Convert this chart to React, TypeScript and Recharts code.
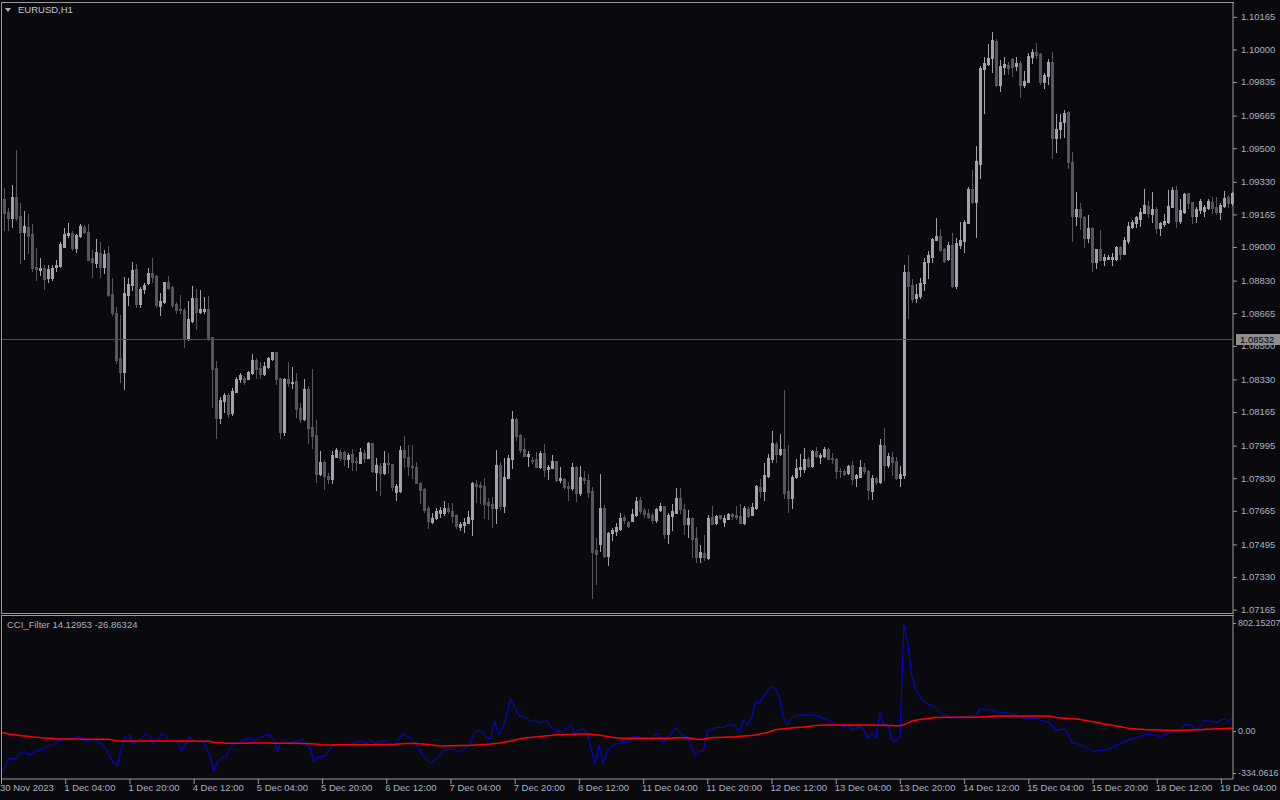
import { ComposedChart, Bar, Line, XAxis, YAxis, ReferenceLine } from 'recharts'

// EURUSD H1 candles per trading day: [open, high, low, close]
const nov30 = [
  [1.09242, 1.09297, 1.09086, 1.09173], [1.09178, 1.09196, 1.09086, 1.09148], [1.09148, 1.09314, 1.09103, 1.09252],
  [1.09252, 1.09491, 1.09137, 1.09148], [1.09157, 1.09221, 1.08917, 1.09077], [1.09077, 1.09183, 1.08938, 1.09107],
  [1.091, 1.09167, 1.08968, 1.09056], [1.09066, 1.09117, 1.08879, 1.08895], [1.089, 1.08994, 1.08833, 1.08887],
  [1.08885, 1.08943, 1.08859, 1.08893], [1.08893, 1.08907, 1.08786, 1.0884], [1.08842, 1.08907, 1.08824, 1.08887],
]
const dec01 = [
  [1.08843, 1.08907, 1.08833, 1.08893], [1.08899, 1.08934, 1.0888, 1.08907], [1.08905, 1.09027, 1.089, 1.09016],
  [1.09002, 1.09095, 1.09002, 1.09064], [1.09061, 1.0912, 1.09049, 1.09071], [1.09071, 1.09082, 1.08985, 1.08994],
  [1.08997, 1.09064, 1.08975, 1.09061], [1.09056, 1.09117, 1.09053, 1.09107], [1.091, 1.09113, 1.09069, 1.09076],
  [1.09076, 1.09117, 1.08934, 1.08934], [1.08944, 1.08985, 1.0885, 1.08925], [1.0892, 1.09042, 1.08897, 1.08975],
  [1.08968, 1.09027, 1.08847, 1.089], [1.089, 1.08985, 1.08867, 1.08966], [1.0897, 1.09006, 1.08753, 1.08758],
  [1.08763, 1.08843, 1.08656, 1.08667], [1.08666, 1.08698, 1.08414, 1.08428], [1.08437, 1.08656, 1.08318, 1.08369],
  [1.08369, 1.0885, 1.0828, 1.08766], [1.08758, 1.08842, 1.08707, 1.08813], [1.08808, 1.08924, 1.08783, 1.08884],
  [1.08889, 1.08914, 1.08695, 1.08712], [1.08712, 1.08799, 1.08698, 1.08789], [1.08788, 1.08816, 1.08769, 1.08808],
]
const dec04 = [
  [1.08816, 1.08895, 1.08813, 1.0887], [1.08867, 1.08946, 1.08824, 1.0885], [1.08854, 1.08859, 1.08695, 1.08707],
  [1.08703, 1.08766, 1.08657, 1.08727], [1.0872, 1.08824, 1.08715, 1.08824], [1.08823, 1.08854, 1.08788, 1.08794],
  [1.08799, 1.08804, 1.08698, 1.08708], [1.08712, 1.08722, 1.08667, 1.08681], [1.08685, 1.08758, 1.08664, 1.08683],
  [1.08681, 1.0869, 1.08493, 1.08533], [1.08533, 1.08725, 1.0853, 1.08635], [1.08626, 1.08803, 1.08622, 1.08743],
  [1.08743, 1.08786, 1.08584, 1.08672], [1.08672, 1.08783, 1.08664, 1.08686], [1.08677, 1.08749, 1.08664, 1.08686],
  [1.08686, 1.08753, 1.0853, 1.08533], [1.08545, 1.08547, 1.08189, 1.08384], [1.08386, 1.08425, 1.08032, 1.08136],
  [1.08136, 1.0824, 1.08108, 1.08226], [1.08221, 1.08263, 1.08166, 1.08252], [1.08252, 1.08263, 1.08141, 1.08155],
  [1.08158, 1.08285, 1.0815, 1.08272], [1.08268, 1.08344, 1.08268, 1.08332], [1.08331, 1.08364, 1.08318, 1.08353],
]
const dec05 = [
  [1.08339, 1.08348, 1.08307, 1.08315], [1.08332, 1.08374, 1.08332, 1.08369], [1.08364, 1.08459, 1.08358, 1.08428],
  [1.08428, 1.08438, 1.08336, 1.08381], [1.08386, 1.08419, 1.08339, 1.08356], [1.08358, 1.08419, 1.08353, 1.08398],
  [1.08395, 1.08442, 1.08386, 1.08437], [1.08432, 1.0847, 1.08428, 1.08467], [1.08467, 1.0847, 1.08307, 1.08332],
  [1.08336, 1.08336, 1.08032, 1.08065], [1.08065, 1.08336, 1.08049, 1.08332], [1.08332, 1.08416, 1.08297, 1.08313],
  [1.0831, 1.08395, 1.08288, 1.08318], [1.08322, 1.08364, 1.08141, 1.08179], [1.08184, 1.08209, 1.08116, 1.08128],
  [1.08128, 1.08331, 1.08125, 1.08282], [1.08282, 1.08297, 1.08007, 1.08086], [1.08089, 1.08381, 1.07982, 1.08045],
  [1.08049, 1.08125, 1.07812, 1.07852], [1.07852, 1.07968, 1.07847, 1.07912], [1.07912, 1.07922, 1.07775, 1.07842],
  [1.07843, 1.07855, 1.07804, 1.07826], [1.07826, 1.07969, 1.07804, 1.07948], [1.07939, 1.07982, 1.07936, 1.07973],
]
const dec06 = [
  [1.07964, 1.07973, 1.07922, 1.07934], [1.07964, 1.07968, 1.07897, 1.07926], [1.07926, 1.07959, 1.07888, 1.07948],
  [1.07951, 1.07977, 1.07872, 1.0791], [1.07915, 1.07939, 1.07872, 1.07912], [1.07908, 1.07982, 1.07905, 1.07963],
  [1.07959, 1.07973, 1.07913, 1.07932], [1.07932, 1.08015, 1.07931, 1.08007], [1.08007, 1.0801, 1.07863, 1.07868],
  [1.07863, 1.07931, 1.07771, 1.07897], [1.07893, 1.07905, 1.07746, 1.07858], [1.07858, 1.07969, 1.07852, 1.07905],
  [1.07907, 1.07956, 1.07855, 1.07902], [1.07902, 1.07902, 1.07771, 1.07787], [1.07762, 1.07801, 1.0772, 1.07791],
  [1.07767, 1.07994, 1.07762, 1.07973], [1.07973, 1.08044, 1.07888, 1.07939], [1.07939, 1.07998, 1.07847, 1.07892],
  [1.07893, 1.07998, 1.0783, 1.07885], [1.07888, 1.07913, 1.07804, 1.07807], [1.07807, 1.07809, 1.07703, 1.07771],
  [1.07776, 1.07779, 1.0766, 1.07669], [1.07677, 1.0769, 1.0758, 1.07615], [1.0761, 1.07655, 1.07605, 1.07629],
]
const dec07 = [
  [1.07627, 1.07678, 1.07622, 1.07664], [1.07655, 1.07683, 1.07635, 1.07671], [1.07654, 1.07715, 1.07644, 1.07677],
  [1.07679, 1.07703, 1.07652, 1.07664], [1.07664, 1.07703, 1.0761, 1.07639], [1.07642, 1.07649, 1.0758, 1.07589],
  [1.07584, 1.0761, 1.07568, 1.07599], [1.07594, 1.07627, 1.07559, 1.07609], [1.07605, 1.07664, 1.07602, 1.07635],
  [1.07625, 1.07812, 1.07543, 1.07804], [1.07801, 1.07821, 1.07711, 1.07791], [1.07796, 1.07812, 1.07703, 1.07784],
  [1.07791, 1.0783, 1.07627, 1.077], [1.0771, 1.07732, 1.07624, 1.07695], [1.077, 1.07734, 1.07585, 1.07681],
  [1.07681, 1.07973, 1.07602, 1.07897], [1.07897, 1.07913, 1.07673, 1.0769], [1.0769, 1.07931, 1.0766, 1.07837],
  [1.07833, 1.07948, 1.0783, 1.07932], [1.07927, 1.0817, 1.0788, 1.0813], [1.0813, 1.08134, 1.08022, 1.08045],
  [1.0805, 1.08054, 1.07964, 1.07973], [1.07978, 1.08032, 1.07943, 1.07944], [1.07944, 1.07969, 1.07893, 1.07953],
]
const dec08 = [
  [1.07922, 1.07939, 1.07905, 1.07917], [1.07926, 1.07964, 1.07885, 1.07888], [1.07888, 1.07969, 1.0788, 1.07956],
  [1.07956, 1.08004, 1.07842, 1.07872], [1.07875, 1.07897, 1.07826, 1.07888], [1.07883, 1.07948, 1.0788, 1.07917],
  [1.07917, 1.07917, 1.07816, 1.07821], [1.07821, 1.07885, 1.07812, 1.07833], [1.07826, 1.0783, 1.07775, 1.07785],
  [1.07791, 1.07812, 1.0772, 1.07781], [1.07781, 1.07905, 1.07771, 1.07885], [1.07885, 1.07892, 1.07716, 1.07757],
  [1.07757, 1.07892, 1.07746, 1.07837], [1.07831, 1.07865, 1.07804, 1.07821], [1.07821, 1.07852, 1.07737, 1.07762],
  [1.07767, 1.07787, 1.07226, 1.07457], [1.07467, 1.07526, 1.07295, 1.07447], [1.07497, 1.07852, 1.07463, 1.07679],
  [1.07679, 1.07693, 1.0743, 1.07437], [1.07437, 1.07559, 1.07392, 1.07551], [1.07551, 1.0758, 1.07518, 1.07567],
  [1.07564, 1.07602, 1.07543, 1.07585], [1.07573, 1.07655, 1.07568, 1.0763], [1.07635, 1.07644, 1.07602, 1.07619],
]
const dec11 = [
  [1.0761, 1.07615, 1.07582, 1.07589], [1.07615, 1.07673, 1.07612, 1.07647], [1.07644, 1.07734, 1.07639, 1.07715],
  [1.0772, 1.07734, 1.07655, 1.07664], [1.07669, 1.07678, 1.07635, 1.07647], [1.07655, 1.07673, 1.07627, 1.07635],
  [1.07644, 1.07652, 1.07602, 1.07619], [1.07619, 1.07678, 1.0761, 1.07673], [1.07669, 1.07703, 1.07665, 1.0769],
  [1.0769, 1.0769, 1.07526, 1.07548], [1.07548, 1.07655, 1.07504, 1.07644], [1.07639, 1.077, 1.07568, 1.07664],
  [1.07655, 1.07779, 1.07652, 1.07732], [1.07732, 1.07779, 1.07655, 1.07673], [1.07673, 1.077, 1.07548, 1.07599],
  [1.07599, 1.07669, 1.07534, 1.0763], [1.0763, 1.07635, 1.0743, 1.07521], [1.07526, 1.07585, 1.07407, 1.07433],
  [1.07433, 1.07492, 1.07407, 1.07455], [1.0745, 1.07543, 1.07416, 1.07433], [1.07428, 1.07644, 1.0742, 1.07627],
  [1.07635, 1.0769, 1.07599, 1.07599], [1.07602, 1.07644, 1.07599, 1.07639], [1.07642, 1.07644, 1.07624, 1.07629],
]
const dec12 = [
  [1.07609, 1.07644, 1.07589, 1.0763], [1.07625, 1.07655, 1.07622, 1.07647], [1.07649, 1.07655, 1.07622, 1.07639],
  [1.07644, 1.0769, 1.07622, 1.07632], [1.0764, 1.077, 1.07602, 1.07605], [1.07605, 1.0769, 1.07599, 1.07681],
  [1.07673, 1.07686, 1.07635, 1.07639], [1.07644, 1.07703, 1.07642, 1.07685], [1.07678, 1.07796, 1.07673, 1.07791],
  [1.07787, 1.07825, 1.07734, 1.07767], [1.07767, 1.07909, 1.0772, 1.07845], [1.07842, 1.07953, 1.07838, 1.07932],
  [1.07927, 1.08069, 1.07913, 1.0801], [1.08004, 1.08015, 1.07913, 1.07953], [1.07953, 1.08054, 1.07948, 1.07978],
  [1.07977, 1.08277, 1.07729, 1.07757], [1.07766, 1.07998, 1.0766, 1.07732], [1.07732, 1.07847, 1.07681, 1.07838],
  [1.07838, 1.07927, 1.07833, 1.07883], [1.07875, 1.07953, 1.07842, 1.07888], [1.07875, 1.07982, 1.07863, 1.07929],
  [1.07929, 1.07936, 1.07885, 1.07892], [1.07892, 1.07973, 1.07885, 1.07969], [1.07969, 1.0799, 1.07936, 1.07943],
]
const dec13 = [
  [1.07936, 1.07959, 1.07909, 1.07949], [1.07943, 1.0799, 1.07936, 1.0798], [1.0798, 1.07982, 1.07926, 1.07929],
  [1.07932, 1.07956, 1.07905, 1.07926], [1.07927, 1.07931, 1.07831, 1.07865], [1.07867, 1.0788, 1.07835, 1.07865],
  [1.07868, 1.07875, 1.07847, 1.0785], [1.07858, 1.07897, 1.07853, 1.07892], [1.07897, 1.07919, 1.07801, 1.07828],
  [1.07833, 1.07852, 1.07791, 1.07847], [1.07838, 1.07922, 1.07835, 1.07885], [1.07885, 1.07909, 1.07855, 1.07868],
  [1.07868, 1.07872, 1.07724, 1.07771], [1.07767, 1.07847, 1.07724, 1.0783], [1.07831, 1.07838, 1.07801, 1.0781],
  [1.07812, 1.08027, 1.07807, 1.07998], [1.07998, 1.08083, 1.07821, 1.07897], [1.07897, 1.07956, 1.07885, 1.07944],
  [1.07936, 1.07964, 1.07847, 1.07914], [1.07919, 1.07936, 1.07826, 1.07833], [1.0783, 1.07894, 1.07792, 1.07852],
  [1.07847, 1.08909, 1.0783, 1.08875], [1.08875, 1.0896, 1.08639, 1.08804], [1.08808, 1.08838, 1.0872, 1.08737],
]
const dec14 = [
  [1.08744, 1.08811, 1.0872, 1.08761], [1.08754, 1.08842, 1.08744, 1.08818], [1.08817, 1.08943, 1.08783, 1.08926],
  [1.08926, 1.0898, 1.08845, 1.0896], [1.08951, 1.09047, 1.08923, 1.09041], [1.09036, 1.09148, 1.09036, 1.09057],
  [1.09057, 1.09091, 1.0898, 1.08985], [1.0899, 1.08997, 1.08923, 1.08929], [1.0894, 1.09027, 1.08934, 1.0901],
  [1.0901, 1.09069, 1.08799, 1.08804], [1.08804, 1.09044, 1.08794, 1.09019], [1.0901, 1.09128, 1.08994, 1.09036],
  [1.09031, 1.09137, 1.08976, 1.09128], [1.09122, 1.09305, 1.09122, 1.09294], [1.09294, 1.0939, 1.09221, 1.09226],
  [1.09229, 1.09513, 1.09052, 1.09435], [1.09422, 1.09917, 1.09351, 1.09904], [1.09901, 1.09963, 1.09677, 1.0993],
  [1.09926, 1.10026, 1.09921, 1.09958], [1.09958, 1.10089, 1.09884, 1.10048], [1.10043, 1.10053, 1.09816, 1.0982],
  [1.0982, 1.09946, 1.09791, 1.09916], [1.09912, 1.0996, 1.09874, 1.09926], [1.09921, 1.09935, 1.09874, 1.09907],
]
const dec15 = [
  [1.09951, 1.09958, 1.09867, 1.09912], [1.09917, 1.09963, 1.09896, 1.09931], [1.09931, 1.09941, 1.09761, 1.0982],
  [1.0982, 1.09891, 1.09811, 1.0984], [1.09837, 1.0998, 1.09834, 1.09967], [1.09963, 1.10002, 1.0993, 1.09986],
  [1.09986, 1.10031, 1.09958, 1.09972], [1.09975, 1.0998, 1.09824, 1.09837], [1.09837, 1.09879, 1.09803, 1.0987],
  [1.09867, 1.09951, 1.09824, 1.09935], [1.09935, 1.09985, 1.09452, 1.0955], [1.09553, 1.09672, 1.09482, 1.09596],
  [1.09596, 1.09672, 1.09553, 1.09634], [1.09631, 1.09693, 1.09558, 1.09677], [1.09682, 1.09688, 1.09401, 1.09429],
  [1.09432, 1.09482, 1.09032, 1.09158], [1.09158, 1.09277, 1.09112, 1.09192], [1.09192, 1.09224, 1.0909, 1.0915],
  [1.09153, 1.09157, 1.09002, 1.09047], [1.09047, 1.09162, 1.09027, 1.09098], [1.09098, 1.09103, 1.0888, 1.08925],
  [1.08925, 1.0899, 1.08892, 1.0899], [1.0899, 1.09086, 1.08934, 1.08934], [1.08934, 1.08965, 1.08909, 1.08951],
]
const dec18 = [
  [1.0894, 1.0896, 1.08938, 1.08951], [1.0894, 1.08971, 1.08909, 1.08951], [1.0894, 1.09006, 1.08934, 1.09002],
  [1.09002, 1.09006, 1.08938, 1.08965], [1.08965, 1.09049, 1.08965, 1.09036], [1.09032, 1.09128, 1.09022, 1.09107],
  [1.091, 1.09137, 1.09095, 1.09127], [1.0912, 1.09157, 1.091, 1.0915], [1.09142, 1.09196, 1.09107, 1.09179],
  [1.09174, 1.09295, 1.09171, 1.09213], [1.09208, 1.09233, 1.0915, 1.09174], [1.09167, 1.09278, 1.09128, 1.09192],
  [1.09192, 1.09201, 1.09073, 1.09098], [1.09098, 1.09128, 1.09061, 1.09123], [1.09117, 1.09167, 1.09107, 1.09133],
  [1.09128, 1.09289, 1.09123, 1.09208], [1.09204, 1.09302, 1.09201, 1.09289], [1.09289, 1.09309, 1.09103, 1.09133],
  [1.09133, 1.09242, 1.09123, 1.09187], [1.09179, 1.09275, 1.09174, 1.09268], [1.09272, 1.09275, 1.09196, 1.09224],
  [1.09228, 1.09229, 1.09123, 1.09158], [1.09158, 1.09201, 1.09128, 1.09192], [1.09187, 1.09242, 1.09171, 1.09233],
]
const dec19 = [
  [1.09184, 1.09213, 1.09158, 1.09204], [1.09196, 1.09242, 1.09191, 1.09233], [1.09229, 1.09252, 1.09171, 1.09196],
  [1.09204, 1.09252, 1.09167, 1.09179], [1.09179, 1.09221, 1.0914, 1.09213], [1.09209, 1.09285, 1.09204, 1.0925],
  [1.09252, 1.09263, 1.09201, 1.09221], [1.09221, 1.0928, 1.09211, 1.09272],
]

// [day, first hour, bars]
const sessions: [string, number, number[][]][] = [
  ['30 Nov', 12, nov30], ['1 Dec', 0, dec01], ['4 Dec', 0, dec04], ['5 Dec', 0, dec05], ['6 Dec', 0, dec06],
  ['7 Dec', 0, dec07], ['8 Dec', 0, dec08], ['11 Dec', 0, dec11], ['12 Dec', 0, dec12], ['13 Dec', 0, dec13],
  ['14 Dec', 0, dec14], ['15 Dec', 0, dec15], ['18 Dec', 0, dec18], ['19 Dec', 0, dec19],
]

// CCI_Filter buffers (blue = cci, red = filter), one value per bar
const cciLine = [
  -300, -248, -190, -194, -185, -148, -143, -167, -150, -136, -132, -116, -102, -97, -74, -62, -57, -55, -50, -39,
  -43, -69, -69, -55, -74, -85, -120, -167, -225, -241, -120, -39, -27, -97, -62, -55, -16, -39, -92, -62,
  -22, -32, -74, -69, -74, -143, -85, -39, -69, -74, -62, -108, -167, -278, -213, -185, -185, -120, -85, -81,
  -69, -62, -46, -69, -55, -39, -27, -23, -62, -143, -57, -69, -85, -69, -69, -55, -92, -120, -213, -178,
  -178, -167, -120, -97, -97, -97, -104, -92, -85, -74, -69, -85, -57, -85, -74, -69, -69, -92, -104, -62,
  -20, -34, -46, -74, -115, -167, -194, -225, -201, -185, -143, -132, -127, -132, -150, -132, -115, -81, -4, 1,
  -4, -50, -50, 70, -27, 19, 112, 224, 170, 112, 98, 89, 66, 80, 54, 66, 70, 31, 8, 1,
  -9, 19, 43, -16, 8, 15, -4, -120, -232, -97, -225, -143, -115, -90, -85, -78, -81, -62, -32, -46,
  -50, -55, -55, -27, -16, -85, -39, -23, 24, -9, -32, -39, -108, -167, -143, -139, 1, 8, 24, 24,
  24, 43, 43, 38, -9, 77, 43, 89, 200, 194, 240, 280, 310, 298, 228, 89, 43, 89, 112, 108,
  117, 108, 117, 105, 101, 89, 77, 66, 43, 38, 31, 43, 8, 19, 31, 8, -55, -16, -46, 124,
  42, 43, -62, -69, -50, 739, 600, 379, 286, 240, 205, 187, 177, 159, 124, 112, 108, 84, 101, 94,
  101, 105, 112, 108, 154, 154, 147, 147, 135, 124, 129, 124, 119, 108, 101, 84, 84, 89, 89, 77,
  70, 61, 31, 8, 8, 19, -27, -85, -85, -97, -108, -120, -143, -139, -136, -132, -127, -115, -97, -85,
  -74, -62, -55, -46, -39, -27, -23, -27, -32, -39, -23, -16, 1, -9, 8, 43, 47, 31, 8, 38,
  77, 70, 66, 61, 77, 84, 70, 94,
]
const filterLine = [
  -9, -14, -20, -24, -28, -32, -35, -38, -41, -43, -46, -48, -50, -52, -55, -55, -56, -56, -56, -56,
  -57, -57, -57, -57, -57, -57, -57, -57, -63, -69, -69, -69, -69, -69, -69, -69, -69, -69, -69, -69,
  -69, -69, -69, -70, -70, -70, -70, -70, -70, -71, -71, -71, -71, -78, -80, -82, -84, -85, -85, -84,
  -84, -84, -83, -83, -83, -83, -83, -83, -84, -84, -84, -84, -84, -84, -85, -86, -87, -88, -90, -92,
  -95, -97, -97, -96, -96, -96, -96, -95, -95, -95, -95, -95, -95, -95, -94, -94, -93, -93, -92, -90,
  -88, -87, -86, -85, -88, -90, -92, -96, -99, -102, -104, -103, -102, -102, -101, -101, -100, -99, -97, -95,
  -93, -92, -90, -87, -85, -80, -75, -69, -62, -56, -50, -47, -44, -41, -39, -36, -33, -30, -27, -26,
  -25, -24, -23, -22, -21, -20, -20, -22, -25, -28, -32, -37, -42, -46, -48, -50, -50, -50, -50, -50,
  -50, -50, -50, -50, -50, -50, -50, -50, -47, -47, -47, -47, -50, -55, -57, -55, -50, -46, -45, -44,
  -43, -42, -41, -39, -36, -34, -32, -30, -27, -21, -15, -9, 0, 10, 13, 16, 19, 22, 25, 27,
  29, 32, 35, 38, 40, 41, 42, 43, 43, 43, 43, 43, 43, 43, 43, 43, 42, 42, 41, 41,
  40, 39, 38, 37, 37, 45, 57, 70, 75, 80, 84, 88, 91, 94, 95, 96, 96, 96, 96, 96,
  96, 96, 96, 96, 98, 100, 102, 104, 105, 105, 105, 105, 105, 105, 105, 105, 105, 105, 105, 105,
  105, 105, 100, 94, 92, 90, 88, 86, 84, 80, 75, 70, 65, 61, 56, 50, 45, 40, 35, 30,
  24, 19, 17, 15, 13, 11, 10, 9, 8, 7, 6, 5, 5, 5, 5, 6, 7, 8, 9, 10,
  12, 13, 15, 16, 17, 18, 19, 19,
]

const priceTicks = [
  1.10165, 1.1, 1.09835, 1.09665, 1.095, 1.0933, 1.09165, 1.09, 1.0883, 1.08665,
  1.085, 1.0833, 1.08165, 1.07995, 1.0783, 1.07665, 1.07495, 1.0733, 1.07165,
]
const lastPrice = 1.08532
const cciMax = 802.15207
const cciMin = -334.0616

const timeTicks = [
  '30 Nov 12:00', '1 Dec 04:00', '1 Dec 20:00', '4 Dec 12:00', '5 Dec 04:00', '5 Dec 20:00', '6 Dec 12:00',
  '7 Dec 04:00', '7 Dec 20:00', '8 Dec 12:00', '11 Dec 04:00', '11 Dec 20:00', '12 Dec 12:00', '13 Dec 04:00',
  '13 Dec 20:00', '14 Dec 12:00', '15 Dec 04:00', '15 Dec 20:00', '18 Dec 12:00', '19 Dec 04:00',
]
const firstTickLabel = '30 Nov 2023'

const BG = '#0a0a0e'
const BULL = '#a3a3ae'
const BEAR = '#56565e'
const FRAME = '#9a9a9a'
const TEXT = '#a9b1c2'
const FONT = '"Liberation Sans", Arial, sans-serif'
const PLOT_RIGHT = 1233
// indicator window, in its own chart's coordinates
const SUB_TOP = 1
const SUB_BOTTOM = 164

const candles = sessions.flatMap(([day, startHour, bars]) =>
  bars.map((b, k) => ({
    t: `${day} ${String(startHour + k).padStart(2, '0')}:00`,
    o: b[0], h: b[1], l: b[2], c: b[3],
  }))
)
const cciData = candles.map((d, i) => ({ t: d.t, cci: cciLine[i], filter: filterLine[i] }))

const Candle = (props: any) => {
  const { x, y, width, height, payload } = props
  if (!payload || x == null || y == null) return null
  const { o, h, l, c } = payload
  const top = Math.min(y, y + height)
  const span = Math.abs(height)
  const toPx = (v: number) => (h === l ? top : top + ((h - v) / (h - l)) * span)
  const color = c >= o ? BULL : BEAR
  const cx = Math.round(x + width / 2)
  const bodyTop = Math.round(toPx(Math.max(o, c)))
  const bodyBot = Math.round(toPx(Math.min(o, c)))
  return (
    <g>
      <line x1={cx + 0.5} x2={cx + 0.5} y1={Math.round(top)} y2={Math.round(top + span) + 1}
        stroke={color} strokeWidth={1} shapeRendering="crispEdges" />
      <rect x={cx - 1} y={bodyTop} width={3} height={Math.max(1, bodyBot - bodyTop + 1)}
        fill={color} shapeRendering="crispEdges" />
    </g>
  )
}

const PriceTick = ({ y, payload }: any) => {
  const v = payload.value
  if (v === lastPrice) {
    return (
      <g>
        <rect x={PLOT_RIGHT + 3} y={y - 5.5} width={44} height={11} fill="#8e8e8e" />
        <text x={PLOT_RIGHT + 7} y={y} dy="0.35em" fontSize={9.5} fontFamily={FONT} fill="#000">{v.toFixed(5)}</text>
      </g>
    )
  }
  return (
    <g>
      <line x1={PLOT_RIGHT} x2={PLOT_RIGHT + 4} y1={y + 0.5} y2={y + 0.5} stroke={FRAME} />
      <text x={PLOT_RIGHT + 8} y={y} dy="0.35em" fontSize={9.5} fontFamily={FONT} fill={TEXT}>{v.toFixed(5)}</text>
    </g>
  )
}

const CciTick = ({ y, payload }: any) => {
  const v = payload.value
  const ly = Math.min(Math.max(y, SUB_TOP + 7), SUB_BOTTOM - 6)
  const label = v === cciMax ? String(cciMax) : v === cciMin ? String(cciMin) : v.toFixed(2)
  return (
    <g>
      <line x1={PLOT_RIGHT} x2={PLOT_RIGHT + 3} y1={ly + 0.5} y2={ly + 0.5} stroke={FRAME} />
      <text x={PLOT_RIGHT + 5} y={ly} dy="0.35em" fontSize={9} fontFamily={FONT} fill={TEXT}>{label}</text>
    </g>
  )
}

const TimeTick = ({ x, payload }: any) => {
  const label = payload.value === timeTicks[0] ? firstTickLabel : payload.value
  return (
    <g>
      <line x1={x + 0.5} x2={x + 0.5} y1={SUB_BOTTOM} y2={SUB_BOTTOM + 5} stroke={FRAME} />
      <text x={x - 1} y={SUB_BOTTOM + 9} dy="0.35em" fontSize={9.5} fontFamily={FONT} fill={TEXT}>{label}</text>
    </g>
  )
}

export default function App() {
  return (
    <div style={{ position: 'absolute', left: 0, top: 0, width: 1280, height: 800, background: BG, overflow: 'hidden' }}>
      <div style={{ position: 'absolute', left: 0, top: 0 }}>
        <ComposedChart width={1280} height={614} data={candles} margin={{ top: 2, right: 0, bottom: 1, left: 1 }}>
          <XAxis dataKey="t" type="category" hide />
          <YAxis orientation="right" width={47} domain={[1.07148, 1.1024]} allowDataOverflow
            ticks={[...priceTicks, lastPrice]} interval={0} tick={<PriceTick />} tickLine={false}
            axisLine={{ stroke: FRAME }} />
          <ReferenceLine y={lastPrice} stroke="#4e4e52" />
          <Bar dataKey={(d: any) => [d.l, d.h]} shape={<Candle />} barSize={3} isAnimationActive={false} />
        </ComposedChart>
      </div>
      <div style={{ position: 'absolute', left: 0, top: 615 }}>
        <ComposedChart width={1280} height={185} data={cciData} margin={{ top: SUB_TOP, right: 0, bottom: 0, left: 1 }}>
          <XAxis dataKey="t" type="category" ticks={timeTicks} interval={0} height={21}
            tick={<TimeTick />} tickLine={false} axisLine={{ stroke: FRAME }} />
          <YAxis orientation="right" width={47} domain={[cciMin, cciMax]} allowDataOverflow
            ticks={[cciMax, 0, cciMin]} interval={0} tick={<CciTick />} tickLine={false}
            axisLine={{ stroke: FRAME }} />
          <Line type="linear" dataKey="cci" stroke="#0000ff" strokeWidth={1} dot={false} isAnimationActive={false} />
          <Line type="linear" dataKey="filter" stroke="#ff0000" strokeWidth={1.5} dot={false} isAnimationActive={false} />
        </ComposedChart>
      </div>
      <svg width={1280} height={800} style={{ position: 'absolute', left: 0, top: 0, pointerEvents: 'none' }}>
        <g stroke={FRAME} strokeWidth={1} shapeRendering="crispEdges">
          <line x1={1} x2={PLOT_RIGHT + 1} y1={2.5} y2={2.5} />
          <line x1={1.5} x2={1.5} y1={2} y2={614} />
          <line x1={1} x2={PLOT_RIGHT + 1} y1={613.5} y2={613.5} />
          <line x1={1} x2={PLOT_RIGHT + 1} y1={615.5} y2={615.5} />
          <line x1={1.5} x2={1.5} y1={615} y2={780} />
        </g>
        <path d="M5 8 L11 8 L8 12 Z" fill={TEXT} />
        <text x={18} y={10} dy="0.35em" fontSize={9.5} fontFamily={FONT} fill="#c4c8d0">EURUSD,H1</text>
        <text x={7} y={625} dy="0.35em" fontSize={9.5} fontFamily={FONT} fill={TEXT}>CCI_Filter 14.12953 -26.86324</text>
      </svg>
    </div>
  )
}
